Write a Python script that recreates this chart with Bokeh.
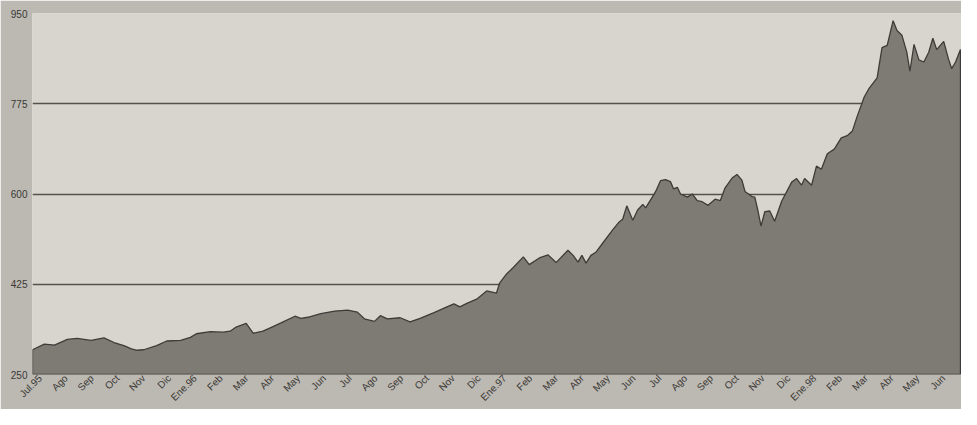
from bokeh.plotting import figure
from bokeh.models import Range1d, FixedTicker
from bokeh.embed import file_html
from bokeh.resources import INLINE

# time in months since 1 Jul 1995
t_months = [0, 0.08, 0.46, 0.85, 1.35, 1.73, 2.27, 2.77, 3.16, 3.54,
            3.81, 4.04, 4.31, 4.81, 5.20, 5.74, 6.12, 6.35, 6.89, 7.39,
            7.66, 7.89, 8.28, 8.55, 8.93, 9.32, 9.63, 10.17, 10.40, 10.67,
            11.17, 11.71, 12.21, 12.59, 12.86, 13.25, 13.48, 13.75, 14.25, 14.63,
            15.02, 15.56, 16.06, 16.33, 16.56, 16.83, 17.21, 17.60, 17.98, 18.10,
            18.37, 18.64, 19.02, 19.25, 19.64, 19.98, 20.29, 20.75, 20.95, 21.14,
            21.29, 21.45, 21.64, 21.83, 22.10, 22.49, 22.72, 22.87, 23.03, 23.26,
            23.45, 23.65, 23.76, 24.03, 24.14, 24.34, 24.53, 24.72, 24.84, 24.99,
            25.11, 25.38, 25.57, 25.76, 25.95, 26.18, 26.45, 26.65, 26.84, 27.11,
            27.30, 27.49, 27.61, 27.88, 27.99, 28.11, 28.23, 28.38, 28.57, 28.76,
            29.03, 29.42, 29.61, 29.80, 29.92, 30.19, 30.38, 30.57, 30.80, 31.07,
            31.34, 31.57, 31.77, 31.96, 32.23, 32.42, 32.73, 32.92, 33.12, 33.35,
            33.50, 33.69, 33.88, 34.00, 34.16, 34.35, 34.54, 34.73, 34.89, 35.04,
            35.31, 35.50, 35.62, 35.77, 35.96]

index_values = [298, 300, 309, 307, 318, 320, 316, 321, 312, 306,
                300, 297, 298, 306, 315, 316, 322, 329, 333, 332,
                334, 342, 349, 330, 334, 343, 350, 363, 359, 361,
                368, 373, 375, 371, 358, 353, 364, 358, 360, 352,
                359, 370, 381, 387, 381, 388, 396, 412, 408, 427,
                445, 458, 478, 463, 476, 482, 467, 491, 481, 468,
                481, 466, 481, 487, 505, 531, 545, 551, 577, 549,
                569, 580, 573, 595, 604, 626, 628, 624, 610, 613,
                600, 594, 600, 587, 585, 578, 590, 587, 612, 631,
                638, 627, 605, 595, 594, 568, 538, 566, 567, 547,
                586, 623, 630, 617, 630, 617, 654, 648, 678, 687,
                709, 713, 722, 751, 788, 805, 825, 884, 888, 936,
                917, 908, 875, 838, 890, 860, 856, 875, 902, 880,
                896, 861, 843, 856, 880]

month_labels = ["Jul.95", "Ago", "Sep", "Oct", "Nov", "Dic",
                "Ene.96", "Feb", "Mar", "Abr", "May", "Jun",
                "Jul", "Ago", "Sep", "Oct", "Nov", "Dic",
                "Ene.97", "Feb", "Mar", "Abr", "May", "Jun",
                "Jul", "Ago", "Sep", "Oct", "Nov", "Dic",
                "Ene.98", "Feb", "Mar", "Abr", "May", "Jun"]

y_ticks = [250, 425, 600, 775, 950]

BASE = 250
Y_MAX = 950
N_MONTHS = 36

p = figure(width=961, height=409, output_backend="svg", toolbar_location=None,
           x_range=Range1d(0, N_MONTHS), y_range=Range1d(BASE, Y_MAX),
           min_border_left=32, min_border_right=0, min_border_top=13, min_border_bottom=20)

p.background_fill_color = "#d8d5ce"
p.border_fill_color = "#bcb9b2"
p.outline_line_color = None

# area
xs = [t_months[0]] + t_months + [t_months[-1]]
ys = [BASE] + index_values + [BASE]
p.patch(xs, ys, fill_color="#7e7b75", line_color="#3e3b38", line_width=1.3)

# grid
p.xgrid.grid_line_color = None
p.ygrid.ticker = FixedTicker(ticks=y_ticks)
p.ygrid.grid_line_color = "#55524e"
p.ygrid.grid_line_width = 1.3

# y axis
p.yaxis.ticker = FixedTicker(ticks=y_ticks)
p.yaxis.axis_line_color = None
p.yaxis.major_tick_line_color = None
p.yaxis.minor_tick_line_color = None
p.yaxis.major_tick_out = 0
p.yaxis.major_tick_in = 0
p.yaxis.minor_tick_out = 0
p.yaxis.major_label_text_font = "Liberation Sans"
p.yaxis.major_label_text_font_size = "10px"
p.yaxis.major_label_text_color = "#3a3835"
p.yaxis.major_label_standoff = 5

# x axis
tick_pos = [i + 0.3 for i in range(N_MONTHS)]
p.xaxis.ticker = FixedTicker(ticks=tick_pos)
p.xaxis.major_label_overrides = {tick_pos[i]: month_labels[i] for i in range(N_MONTHS)}
p.xaxis.major_label_orientation = 0.785
p.xaxis.axis_line_color = None
p.xaxis.major_tick_line_color = None
p.xaxis.minor_tick_line_color = None
p.xaxis.major_tick_out = 0
p.xaxis.major_tick_in = 0
p.xaxis.minor_tick_out = 0
p.xaxis.major_label_text_font = "Liberation Sans"
p.xaxis.major_label_text_font_size = "10px"
p.xaxis.major_label_text_color = "#3a3835"
p.xaxis.major_label_standoff = 2

open("out.html", "w").write(file_html(p, INLINE))
